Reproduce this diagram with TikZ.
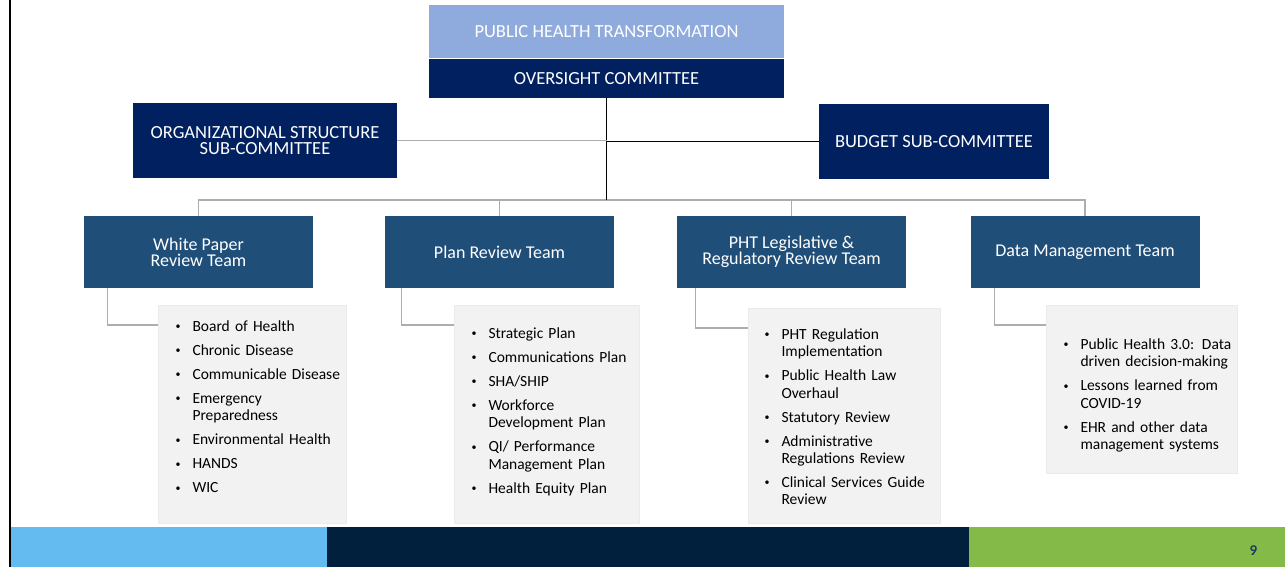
\documentclass[tikz,border=0pt]{standalone}
\usepackage{fontspec}
\setmainfont{Carlito}
\usepackage{array}
\definecolor{colorTop}{HTML}{8FAADC}
\definecolor{colorNavy}{HTML}{002060}
\definecolor{colorTeam}{HTML}{1F4E79}
\definecolor{colorList}{HTML}{F2F2F2}
\definecolor{colorEdge}{HTML}{EBEBEB}
\definecolor{colorLine}{HTML}{ADADAD}
\definecolor{colorSky}{HTML}{63BBEF}
\definecolor{colorDeep}{HTML}{00203D}
\definecolor{colorLeaf}{HTML}{84BB48}
\definecolor{colorNum}{HTML}{1F3864}
\tikzset{
   head/.style={fill=colorTop,text=white,inner sep=0pt,minimum width=355pt,minimum height=53pt,font=\fontsize{18.5}{15}\selectfont},
   board/.style={fill=colorNavy,text=white,inner sep=0pt,align=center,font=\fontsize{18.5}{16}\selectfont},
   team/.style={fill=colorTeam,text=white,inner sep=0pt,align=center,minimum width=229pt,minimum height=72pt,font=\fontsize{18}{15}\selectfont},
   items/.style={fill=colorList,draw=colorEdge,line width=1pt,inner sep=0pt,anchor=north west,align=left,font=\fontsize{15.5}{17.3}\selectfont},
   gl/.style={draw=colorLine,line width=1.3pt},
   bl/.style={draw=black,line width=1.3pt},
}
\newcommand{\dbus}[2]{\draw[gl] (#1) -- (#1 |- #2)}
\newcommand{\dsub}[3]{\draw[gl] ([xshift=#3]#1.south west) |- ([yshift=-20pt]#2.north west)}
\newcommand{\nx}{\\[6.7pt]}
\newcommand{\bul}{\raisebox{1.6pt}{\fontsize{10}{10}\selectfont\textbullet} &}

\begin{document}
\begin{tikzpicture}[x=1pt,y=-1pt]
  \useasboundingbox (0,0) rectangle (1285,567);
  % page frame and footer band
  \draw[black,line width=2.5pt] (10,0) -- (10,567);
  \fill[colorSky] (11,527) rectangle (327,567);
  \fill[colorDeep] (327,527) rectangle (969,567);
  \fill[colorLeaf] (969,527) rectangle (1285,567);
  \node[text=colorNum,font=\fontsize{15}{15}\bfseries] (pnum) at (1253.5,551) {9};

  \node[head] (pht) at (606.5,31.5) {PUBLIC HEALTH TRANSFORMATION};
  \node[board,minimum width=355pt,minimum height=39pt] (ovs) at (606.5,78.5) {OVERSIGHT COMMITTEE};
  \node[board,minimum width=264pt,minimum height=75pt] (org) at (265,140.5) {ORGANIZATIONAL STRUCTURE\\SUB-COMMITTEE};
  \node[board,minimum width=230pt,minimum height=75pt] (bud) at (934,141.5) {BUDGET SUB-COMMITTEE};

  \node[team] (wp) at (198.5,252) {White Paper\\Review Team};
  \node[team] (pr) at (499.5,252) {Plan Review Team};
  \node[team] (leg) at (791.5,252) {PHT Legislative \&\\Regulatory Review Team};
  \node[team] (dm) at (1085,252) {Data Management Team};

  \coordinate (bus) at (606.5,200);
  \draw[gl] (wp.north) |- (bus) -| (dm.north);
  \dbus{pr.north}{bus};
  \dbus{leg.north}{bus};
  \draw[bl] (ovs.south) -- (bus);
  \draw[gl] (org.east) -- (org.east -| ovs.south);
  \draw[bl] (bud.west) -- (bud.west -| ovs.south);

  \node[items,text width=188pt,text height=26pt,text depth=192pt] (wpl) at (158,305) {%
    \begin{tabular}[t]{@{\hspace{17pt}}p{17pt}@{}l@{}}
    \bul Board of Health\nx
    \bul Chronic Disease\nx
    \bul Communicable Disease\nx
    \bul Emergency\\ & Preparedness\nx
    \bul Environmental Health\nx
    \bul HANDS\nx
    \bul WIC
    \end{tabular}};
  \node[items,text width=185pt,text height=33pt,text depth=185pt] (prl) at (454,305) {%
    \begin{tabular}[t]{@{\hspace{17pt}}p{17pt}@{}l@{}}
    \bul Strategic Plan\nx
    \bul Communications Plan\nx
    \bul SHA/SHIP\nx
    \bul Workforce\\ & Development Plan\nx
    \bul QI/ Performance\\ & Management Plan\nx
    \bul Health Equity Plan
    \end{tabular}};
  \node[items,text width=192pt,text height=31pt,text depth=184pt] (legl) at (748,308) {%
    \begin{tabular}[t]{@{\hspace{16pt}}p{17pt}@{}l@{}}
    \bul PHT Regulation\\ & Implementation\nx
    \bul Public Health Law\\ & Overhaul\nx
    \bul Statutory Review\nx
    \bul Administrative\\ & Regulations Review\nx
    \bul Clinical Services Guide\\ & Review
    \end{tabular}};
  \node[items,text width=191pt,text height=44pt,text depth=124pt] (dml) at (1046,305) {%
    \begin{tabular}[t]{@{\hspace{17pt}}p{17pt}@{}l@{}}
    \bul Public Health 3.0: Data\\ & driven decision-making\nx
    \bul Lessons learned from\\ & COVID-19\nx
    \bul EHR and other data\\ & management systems
    \end{tabular}};

  \dsub{wp}{wpl}{24pt};
  \dsub{pr}{prl}{17pt};
  \dsub{leg}{legl}{19pt};
  \dsub{dm}{dml}{24pt};
\end{tikzpicture}
\end{document}
